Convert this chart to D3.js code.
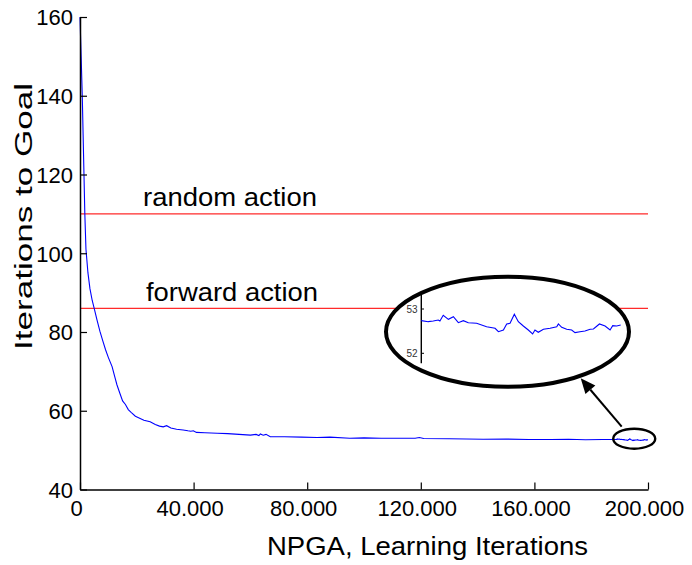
<!DOCTYPE html>
<html>
<head>
<meta charset="utf-8">
<script src="https://cdn.jsdelivr.net/npm/d3@7"></script>
<style>
  html, body { margin: 0; padding: 0; background: #fff; }
  svg { display: block; font-family: "Liberation Sans", Arial, sans-serif; }
</style>
</head>
<body>
<svg id="chart" width="692" height="565"></svg>
<script>
// ---- data ----
const mainIters = [0, 400, 800, 1100, 1400, 1700, 2100, 2800, 3500, 4300, 5000, 6000, 7000, 8000, 9000, 10000,
  11300, 12300, 13000, 14000, 15000, 16000, 17000, 18000, 19500, 21000, 22500, 24700, 26500, 28000, 29300,
  30500, 32000, 34000, 36300, 38000, 39000, 39900, 41000, 44000, 48300, 52000, 56000, 60000, 62000, 63000,
  63500, 64500, 65500, 67000, 72000, 78000, 83500, 88000, 95000, 100000, 106000, 112000, 118000, 119500,
  121000, 130000, 142000, 150000, 158000, 165800, 172000, 178000, 184000, 187500];
const mainValues = [160, 150, 140, 130, 120, 110, 101, 95, 91, 88, 86, 83, 80.2, 77.8, 75.5, 73.5,
  71.2, 68.5, 66.6, 64.5, 62.5, 61.6, 60.3, 59.6, 58.6, 58.1, 57.6, 57.2, 56.5, 56.1, 55.9,
  56.2, 55.6, 55.3, 55.1, 54.9, 54.8, 54.9, 54.5, 54.4, 54.3, 54.2, 54.0, 53.8, 54.0, 53.7,
  54.1, 53.8, 54.0, 53.4, 53.4, 53.3, 53.2, 53.3, 53.0, 53.1, 53.0, 53.0, 53.0, 53.2,
  52.95, 52.9, 52.75, 52.8, 52.7, 52.7, 52.75, 52.65, 52.7, 52.72];
// zoomed tail (shown in the inset)
const zoomIters = [188000, 188420, 188720, 189020, 189120, 189320, 189630, 189930, 190230, 190530, 190830,
  191330, 191930, 192440, 192640, 192940, 193140, 193340, 193600, 193840, 194140, 194440, 194700, 194840,
  195040, 195350, 195750, 196150, 196250, 196450, 196750, 197050, 197250, 197550, 197850, 198160, 198360,
  198720, 199060, 199360, 199520, 199760, 200000];
const zoomValues = [52.737, 52.714, 52.729, 52.752, 52.729, 52.857, 52.767, 52.827, 52.691, 52.737, 52.691,
  52.677, 52.601, 52.564, 52.488, 52.526, 52.662, 52.677, 52.880, 52.714, 52.616, 52.526, 52.436, 52.526,
  52.474, 52.542, 52.564, 52.601, 52.662, 52.587, 52.542, 52.526, 52.466, 52.488, 52.503, 52.542, 52.549,
  52.662, 52.616, 52.526, 52.624, 52.616, 52.639];
const refNames = ["random action", "forward action"];
const refValues = [110, 86];
const yTicks = [40, 60, 80, 100, 120, 140, 160];
const xTicks = [0, 40000, 80000, 120000, 160000, 200000];
const insetTicks = [52, 53];
const xLabel = "NPGA, Learning Iterations";
const yLabel = "Iterations to Goal";

// ---- drawing ----
const svg = d3.select("#chart");
const x = d3.scaleLinear().domain([0, 200000]).range([80, 648]);
const y = d3.scaleLinear().domain([40, 160]).range([489.5, 17]);

const fmtLocale = d3.formatLocale({ decimal: ",", thousands: ".", grouping: [3], currency: ["", ""] });
const fmt = fmtLocale.format(",");

// main series
const series = mainIters.map((t, i) => [t, mainValues[i]])
  .concat(zoomIters.map((t, i) => [t, zoomValues[i]]));
const line = d3.line().x(d => x(d[0])).y(d => y(d[1]));

// reference lines
refValues.forEach((v, i) => {
  svg.append("line")
    .attr("x1", x(0)).attr("x2", x(200000))
    .attr("y1", y(v)).attr("y2", y(v))
    .attr("stroke", "#ff2a2a").attr("stroke-width", 1.4);
});
svg.append("text").attr("x", 143).attr("y", y(refValues[0]) - 7.5)
  .attr("font-size", 26).attr("textLength", 174).attr("lengthAdjust", "spacingAndGlyphs")
  .text(refNames[0]);
svg.append("text").attr("x", 146).attr("y", y(refValues[1]) - 7)
  .attr("font-size", 26).attr("textLength", 172).attr("lengthAdjust", "spacingAndGlyphs")
  .text(refNames[1]);

svg.append("path").datum(series)
  .attr("d", line).attr("fill", "none")
  .attr("stroke", "#0000ff").attr("stroke-width", 1.1);

// axes
const yAxis = d3.axisLeft(y).tickValues(yTicks).tickSizeInner(-7).tickSizeOuter(0).tickPadding(7);
const gy = svg.append("g").attr("transform", "translate(80,0)").call(yAxis);
const xAxis = d3.axisBottom(x).tickValues(xTicks).tickSizeInner(-7).tickSizeOuter(0).tickPadding(11).tickFormat(fmt);
const gx = svg.append("g").attr("transform", "translate(0,489.5)").call(xAxis);
[gx, gy].forEach(g => {
  g.select(".domain").attr("stroke", "#000").attr("stroke-width", 1.5);
  g.selectAll(".tick line").attr("stroke", "#000").attr("stroke-width", 1.2);
  g.selectAll(".tick text").attr("fill", "#000").attr("font-size", 22)
    .attr("font-family", "'Liberation Sans', Arial, sans-serif");
});
gx.selectAll(".tick text").attr("dx", -4);
gy.selectAll(".tick text").attr("dy", "0.36em");

// axis labels
svg.append("text").attr("x", 267).attr("y", 555)
  .attr("font-size", 26).attr("textLength", 321).attr("lengthAdjust", "spacingAndGlyphs")
  .text(xLabel);
svg.append("text").attr("transform", "translate(31.5,216.5) rotate(-90)")
  .attr("text-anchor", "middle")
  .attr("font-size", 23.5).attr("textLength", 267).attr("lengthAdjust", "spacingAndGlyphs")
  .text(yLabel);

// small ellipse around the tail
svg.append("ellipse")
  .attr("cx", x(195150)).attr("cy", y(52.9))
  .attr("rx", 21).attr("ry", 10)
  .attr("fill", "none").attr("stroke", "#000").attr("stroke-width", 2.4);

// arrow
const a0 = [621.7, 426.7], a1 = [580.7, 378.3];
const ang = Math.atan2(a1[1] - a0[1], a1[0] - a0[0]);
const headLen = 15, headW = 6.5;
const base = [a1[0] - headLen * Math.cos(ang), a1[1] - headLen * Math.sin(ang)];
svg.append("line").attr("x1", a0[0]).attr("y1", a0[1]).attr("x2", base[0]).attr("y2", base[1])
  .attr("stroke", "#000").attr("stroke-width", 2);
svg.append("polygon")
  .attr("points", [
    a1,
    [base[0] + headW * Math.sin(ang), base[1] - headW * Math.cos(ang)],
    [base[0] - headW * Math.sin(ang), base[1] + headW * Math.cos(ang)]
  ].map(p => p.join(",")).join(" "))
  .attr("fill", "#000");

// inset
svg.append("ellipse").attr("cx", 507.5).attr("cy", 331.7).attr("rx", 121.5).attr("ry", 55)
  .attr("fill", "#fff").attr("stroke", "#000").attr("stroke-width", 4);
const xi = d3.scaleLinear().domain([188000, 200000]).range([421.3, 620.7]);
const yi = d3.scaleLinear().domain([52, 53]).range([353.3, 309]);
svg.append("line").attr("x1", 421.3).attr("x2", 421.3).attr("y1", 291.7).attr("y2", 363.3)
  .attr("stroke", "#000").attr("stroke-width", 1.4);
insetTicks.forEach(t => {
  svg.append("line").attr("x1", 421.3).attr("x2", 424).attr("y1", yi(t)).attr("y2", yi(t))
    .attr("stroke", "#000").attr("stroke-width", 1);
  svg.append("text").attr("x", 417.5).attr("y", yi(t)).attr("dy", "0.36em")
    .attr("text-anchor", "end").attr("font-size", 10).attr("fill", "#333").text(t);
});
svg.append("path")
  .datum(zoomIters.map((t, i) => [t, zoomValues[i]]))
  .attr("d", d3.line().x(d => xi(d[0])).y(d => yi(d[1])))
  .attr("fill", "none").attr("stroke", "#0000ff").attr("stroke-width", 1.1);
</script>
</body>
</html>
